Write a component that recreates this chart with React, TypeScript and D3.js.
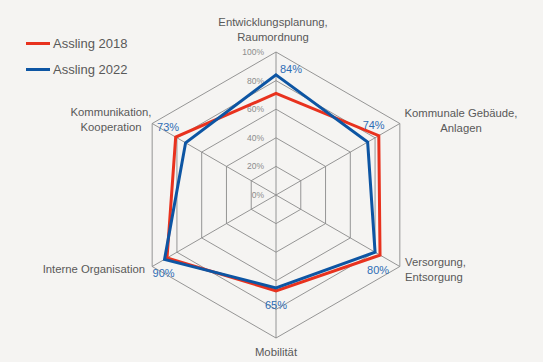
import React from "react";
import * as d3 from "d3";

const categories = [
  ["Entwicklungsplanung,", "Raumordnung"],
  ["Kommunale Gebäude,", "Anlagen"],
  ["Versorgung,", "Entsorgung"],
  ["Mobilität"],
  ["Interne Organisation"],
  ["Kommunikation,", "Kooperation"],
];
const series2018 = [0.71, 0.83, 0.84, 0.67, 0.88, 0.81];
const series2022 = [0.84, 0.74, 0.8, 0.65, 0.9, 0.73];
const seriesNames = ["Assling 2018", "Assling 2022"];
const ticks = [0, 0.2, 0.4, 0.6, 0.8, 1.0];

const W = 543, H = 362;
const cx = 276, cy = 195, R = 143;
const RED = "#e8321e";
const BLUE = "#0d55a3";
const GRID = "#8a8a8a";
const FONT = "'Liberation Sans', Arial, sans-serif";

export default function App() {
  const r = d3.scaleLinear().domain([0, 1]).range([0, R]);
  const ang = (i: number) => (-90 + 60 * i) * Math.PI / 180;
  const pt = (i: number, v: number): [number, number] => [
    cx + r(v) * Math.cos(ang(i)),
    cy + r(v) * Math.sin(ang(i)),
  ];
  const line = d3.line<number>().x((v, i) => pt(i, v)[0]).y((v, i) => pt(i, v)[1]).curve(d3.curveLinearClosed);
  const ring = (v: number) => line(categories.map(() => v)) as string;

  const catPos: { x: number; y: number; anchor: string }[] = [
    { x: 273, y: 26, anchor: "middle" },
    { x: 461, y: 117, anchor: "middle" },
    { x: 405, y: 266, anchor: "start" },
    { x: 276, y: 356, anchor: "middle" },
    { x: 145, y: 273, anchor: "end" },
    { x: 111, y: 116, anchor: "middle" },
  ];
  const lblOff: [number, number, string][] = [
    [4, -6, "start"],
    [6, -17, "middle"],
    [3, 18, "middle"],
    [0, 17, "middle"],
    [-1, 13.5, "middle"],
    [-17.5, -16, "middle"],
  ];

  return (
    <svg width={W} height={H} style={{ position: "absolute", left: 0, top: 0, background: "#f5f4f2" }} fontFamily={FONT}>
      <rect width={W} height={H} fill="#f5f4f2" />
      {ticks.filter((t) => t > 0).map((t) => (
        <path key={t} d={ring(t)} fill="none" stroke={GRID} strokeWidth={0.9} />
      ))}
      {categories.map((_, i) => {
        const [x, y] = pt(i, 1);
        return <line key={i} x1={cx} y1={cy} x2={x} y2={y} stroke={GRID} strokeWidth={0.9} />;
      })}
      {ticks.map((t) => (
        <text key={t} x={cx - 12} y={cy - r(t) + 3} fontSize={8.5} fill="#8c8c8c" textAnchor="end">
          {d3.format(".0%")(t)}
        </text>
      ))}
      <path d={line(series2018) as string} fill="none" stroke={RED} strokeWidth={3} strokeLinejoin="miter" />
      <path d={line(series2022) as string} fill="none" stroke={BLUE} strokeWidth={3} strokeLinejoin="miter" />
      {series2022.map((v, i) => {
        const [x, y] = pt(i, v);
        const [dx, dy, a] = lblOff[i];
        return (
          <text key={i} x={x + dx} y={y + dy + 4} fontSize={11} fill="#2e6db5" textAnchor={a}>
            {d3.format(".0%")(v)}
          </text>
        );
      })}
      {categories.map((lines, i) => (
        <text key={i} x={catPos[i].x} y={catPos[i].y} fontSize={11.3} fill="#595959" textAnchor={catPos[i].anchor}>
          {lines.map((l, j) => (
            <tspan key={j} x={catPos[i].x} dy={j === 0 ? 0 : 14.5}>{l}</tspan>
          ))}
        </text>
      ))}
      {seriesNames.map((n, i) => (
        <g key={n} transform={`translate(26,${43.5 + i * 26})`}>
          <line x1={0} x2={24} y1={0} y2={0} stroke={i === 0 ? RED : BLUE} strokeWidth={3} />
          <text x={27} y={4.5} fontSize={13} fill="#595959">{n}</text>
        </g>
      ))}
    </svg>
  );
}
